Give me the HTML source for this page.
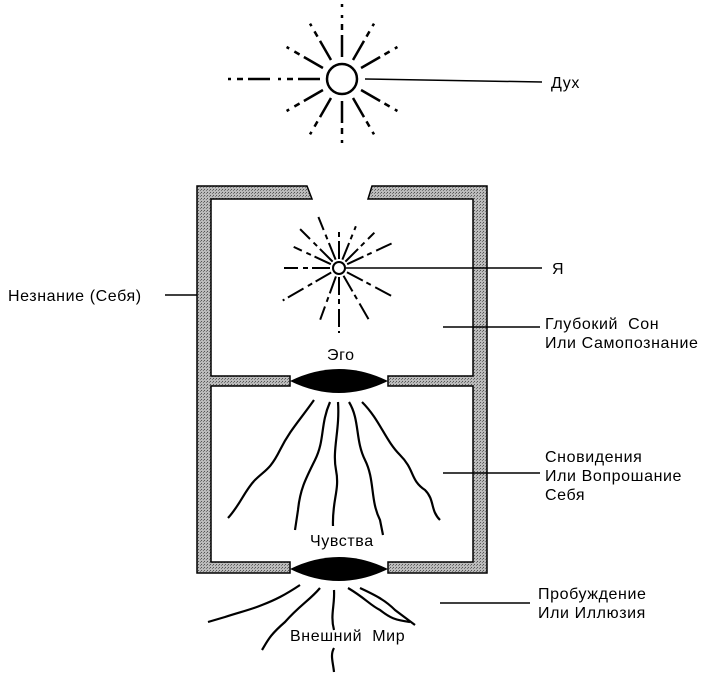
<!DOCTYPE html>
<html><head><meta charset="utf-8"><style>
html,body{margin:0;padding:0;background:#fff}
svg{display:block}
text{font-family:"Liberation Sans",sans-serif;font-size:16px;letter-spacing:0.6px;fill:#000}
</style></head><body>
<svg width="720" height="676" viewBox="0 0 720 676">
<defs>
<pattern id="hatch" width="3" height="3" patternUnits="userSpaceOnUse">
<rect width="3" height="3" fill="#bbb"/><rect width="1" height="1" fill="#555"/><rect x="2" y="1" width="1" height="1" fill="#777"/>
</pattern>
</defs>
<!-- Sun -->
<circle cx="342" cy="79" r="15" fill="#fff" stroke="#000" stroke-width="2.5"/>
<g stroke="#000" stroke-width="2.5" stroke-dasharray="22 5 6 6 3 8" fill="none">
<g transform="translate(342,79)">
<line x1="0" y1="-22" x2="0" y2="-75"/>
<line x1="0" y1="-22" x2="0" y2="-68" transform="rotate(180)"/>
<line x1="0" y1="-22" x2="0" y2="-68" transform="rotate(30)"/>
<line x1="0" y1="-22" x2="0" y2="-68" transform="rotate(60)"/>
<line x1="0" y1="-22" x2="0" y2="-68" transform="rotate(120)"/>
<line x1="0" y1="-22" x2="0" y2="-68" transform="rotate(150)"/>
<line x1="0" y1="-22" x2="0" y2="-68" transform="rotate(-30)"/>
<line x1="0" y1="-22" x2="0" y2="-68" transform="rotate(-60)"/>
<line x1="0" y1="-22" x2="0" y2="-68" transform="rotate(-120)"/>
<line x1="0" y1="-22" x2="0" y2="-68" transform="rotate(-150)"/>
<line x1="0" y1="-22" x2="0" y2="-115" transform="rotate(-90)"/>
</g>
</g>
<line x1="365" y1="79" x2="542" y2="82" stroke="#000" stroke-width="1.5"/>
<text x="551" y="88">Дух</text>

<!-- Frame -->
<g stroke="#000" stroke-width="1.5" fill="url(#hatch)">
<path d="M197,186 H307 L312,199 H211 V376 H290 V386 H211 V562 H290 V573 H197 Z"/>
<path d="M372,186 H487 V573 H388 V562 H473 V386 H388 V376 H473 V199 H368 Z"/>
</g>
<!-- lenses -->
<path d="M290,381 Q339,357 388,381 Q339,405 290,381 Z" fill="#000"/>
<path d="M290,569 Q339,545 388,569 Q339,593 290,569 Z" fill="#000"/>

<!-- Я star -->
<circle cx="339" cy="268" r="6" fill="#fff" stroke="#000" stroke-width="2"/>
<g stroke="#000" stroke-width="2" stroke-dasharray="18 4 5 5" fill="none" transform="translate(339,268)">
<line x1="0" y1="-9" x2="0" y2="-40"/>
<line x1="0" y1="9" x2="0" y2="65"/>
<line x1="-9" y1="0" x2="-55" y2="0"/>
<line x1="0" y1="-9" x2="0" y2="-45" transform="rotate(22)"/>
<line x1="0" y1="-9" x2="0" y2="-50" transform="rotate(45)"/>
<line x1="0" y1="-9" x2="0" y2="-58" transform="rotate(65)"/>
<line x1="0" y1="-9" x2="0" y2="-60" transform="rotate(118)"/>
<line x1="0" y1="-9" x2="0" y2="-60" transform="rotate(150)"/>
<line x1="0" y1="-9" x2="0" y2="-55" transform="rotate(200)"/>
<line x1="0" y1="-9" x2="0" y2="-65" transform="rotate(240)"/>
<line x1="0" y1="-9" x2="0" y2="-55" transform="rotate(-22)"/>
<line x1="0" y1="-9" x2="0" y2="-55" transform="rotate(-45)"/>
<line x1="0" y1="-9" x2="0" y2="-50" transform="rotate(-65)"/>
</g>
<line x1="346" y1="268" x2="542" y2="268" stroke="#000" stroke-width="1.5"/>
<text x="552" y="274">Я</text>

<line x1="165" y1="295" x2="197" y2="295" stroke="#000" stroke-width="1.5"/>
<text x="8" y="301">Незнание (Себя)</text>

<line x1="443" y1="327" x2="540" y2="327" stroke="#000" stroke-width="1.5"/>
<text x="545" y="329">Глубокий&#160; Сон</text>
<text x="545" y="348">Или Самопознание</text>

<text x="327" y="360">Эго</text>

<!-- wavy lines from ego -->
<g stroke="#000" stroke-width="2.2" fill="none">
<path d="M314,400 C300,420 290,430 280,450 C270,470 265,470 255,480 C245,490 240,505 228,518"/>
<path d="M330,402 C320,425 325,440 315,460 C305,480 300,490 298,510 L295,530"/>
<path d="M338,402 C340,430 332,450 336,470 C340,490 332,500 333,526"/>
<path d="M349,402 C360,420 355,440 365,460 C375,480 370,500 380,520 L383,535"/>
<path d="M362,402 C380,420 385,440 400,455 C415,470 410,480 425,490 C435,500 430,510 440,520"/>
</g>
<line x1="443" y1="473" x2="540" y2="473" stroke="#000" stroke-width="1.5"/>
<text x="545" y="462">Сновидения</text>
<text x="545" y="481">Или Вопрошание</text>
<text x="545" y="500">Себя</text>
<text x="310" y="546">Чувства</text>

<!-- wavy lines below -->
<g stroke="#000" stroke-width="2.2" fill="none">
<path d="M300,585 C285,595 275,600 262,605 C250,610 240,612 225,617 L208,622"/>
<path d="M320,588 C310,600 300,605 285,622 C270,635 268,640 262,650"/>
<path d="M334,590 C335,605 330,615 334,630"/>
<path d="M348,588 C365,598 370,605 380,610 C390,618 395,620 410,622"/>
<path d="M360,588 C375,595 385,600 395,610 L415,625"/>
<path d="M334,648 C330,655 333,662 334,672"/>
</g>
<line x1="440" y1="603" x2="530" y2="603" stroke="#000" stroke-width="1.5"/>
<text x="538" y="599">Пробуждение</text>
<text x="538" y="618">Или Иллюзия</text>
<text x="290" y="641">Внешний&#160; Мир</text>
</svg>
</body></html>
